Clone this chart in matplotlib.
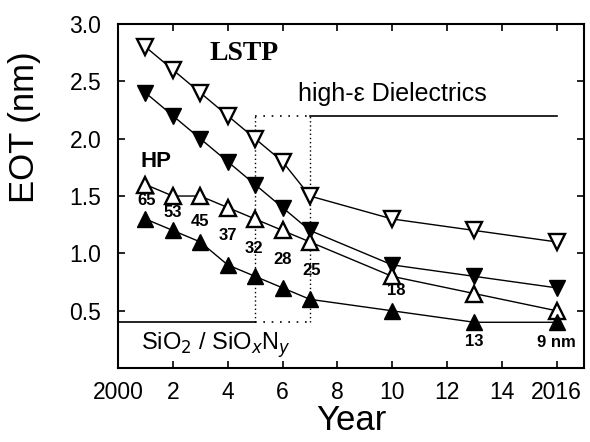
import matplotlib
matplotlib.use("Agg")
import matplotlib.pyplot as plt

plt.rcParams['font.family'] = ['Liberation Sans', 'DejaVu Sans']

# ITRS EOT roadmap
years = [2001, 2002, 2003, 2004, 2005, 2006, 2007, 2010, 2013, 2016]
lstp_upper = [2.8, 2.6, 2.4, 2.2, 2.0, 1.8, 1.5, 1.3, 1.2, 1.1]
lstp_lower = [2.4, 2.2, 2.0, 1.8, 1.6, 1.4, 1.2, 0.9, 0.8, 0.7]
hp_upper = [1.6, 1.5, 1.5, 1.4, 1.3, 1.2, 1.1, 0.8, 0.65, 0.5]
hp_lower = [1.3, 1.2, 1.1, 0.9, 0.8, 0.7, 0.6, 0.5, 0.4, 0.4]

# technology node labels and where they sit
node_labels = ['65', '53', '45', '37', '32', '28', '25', '18', '13', '9 nm']
node_x = [2001.05, 2002.0, 2003.0, 2004.0, 2004.95, 2006.0, 2007.05, 2010.15, 2013.0, 2016.0]
node_y = [1.46, 1.36, 1.28, 1.16, 1.04, 0.95, 0.85, 0.68, 0.23, 0.22]

xticks = [2000, 2002, 2004, 2006, 2008, 2010, 2012, 2014, 2016]
xticklabels = ['2000', '2', '4', '6', '8', '10', '12', '14', '2016']
yticks = [0.5, 1.0, 1.5, 2.0, 2.5, 3.0]

fig = plt.figure(figsize=(5.9, 4.42), dpi=100)
ax = fig.add_axes([0.2, 0.167, 0.79, 0.779])

# region boundaries: SiO2 below, high-k above
ax.plot([2000, 2005], [0.4, 0.4], color='k', lw=1.2)
ax.plot([2005, 2007], [0.4, 0.4], color='k', lw=1.2, ls=(0, (1, 4)))
ax.plot([2007, 2016], [2.2, 2.2], color='k', lw=1.2)
ax.plot([2005, 2007], [2.2, 2.2], color='k', lw=1.2, ls=(0, (1, 4)))
ax.plot([2005, 2005], [0.4, 2.2], color='k', lw=1.0, ls=(0, (1, 2)))
ax.plot([2007, 2007], [0.4, 2.2], color='k', lw=1.0, ls=(0, (1, 2)))

ms = 12
ax.plot(years, lstp_upper, '-v', color='k', lw=1.0, ms=ms, mfc='white', mec='k', mew=1.7)
ax.plot(years, lstp_lower, '-v', color='k', lw=1.0, ms=ms, mfc='k', mec='k')
ax.plot(years, hp_upper, '-^', color='k', lw=1.0, ms=ms, mfc='white', mec='k', mew=1.7)
ax.plot(years, hp_lower, '-^', color='k', lw=1.0, ms=ms, mfc='k', mec='k')

for lab, x, y in zip(node_labels, node_x, node_y):
    ax.text(x, y, lab, ha='center', va='center', fontsize=12, fontweight='bold')

ax.text(2004.6, 2.74, 'LSTP', family='Liberation Serif', fontweight='bold', fontsize=20,
        ha='center', va='center')
ax.text(2001.4, 1.8, 'HP', fontweight='bold', fontsize=16, ha='center', va='center')
ax.text(2010.0, 2.39, 'high-ε Dielectrics', fontsize=18, ha='center', va='center')
ax.text(2000.85, 0.2, r'SiO$_2$ / SiO$_x$N$_y$', fontsize=17, ha='left', va='center')

ax.set_xlim(2000, 2017)
ax.set_ylim(0, 3.0)
ax.set_xticks(xticks)
ax.set_xticklabels(xticklabels)
ax.set_yticks(yticks)
ax.tick_params(direction='in', top=True, right=True, length=5, width=1.2,
               labelsize=16.5)
ax.tick_params(axis='y', pad=12)
ax.tick_params(axis='x', pad=9)
for s in ax.spines.values():
    s.set_linewidth(1.5)

ax.set_xlabel('Year', fontsize=25, labelpad=0)
ax.set_ylabel('EOT (nm)', fontsize=25)
ax.yaxis.set_label_coords(-0.165, 0.7)

fig.savefig('out.png', dpi=100)
